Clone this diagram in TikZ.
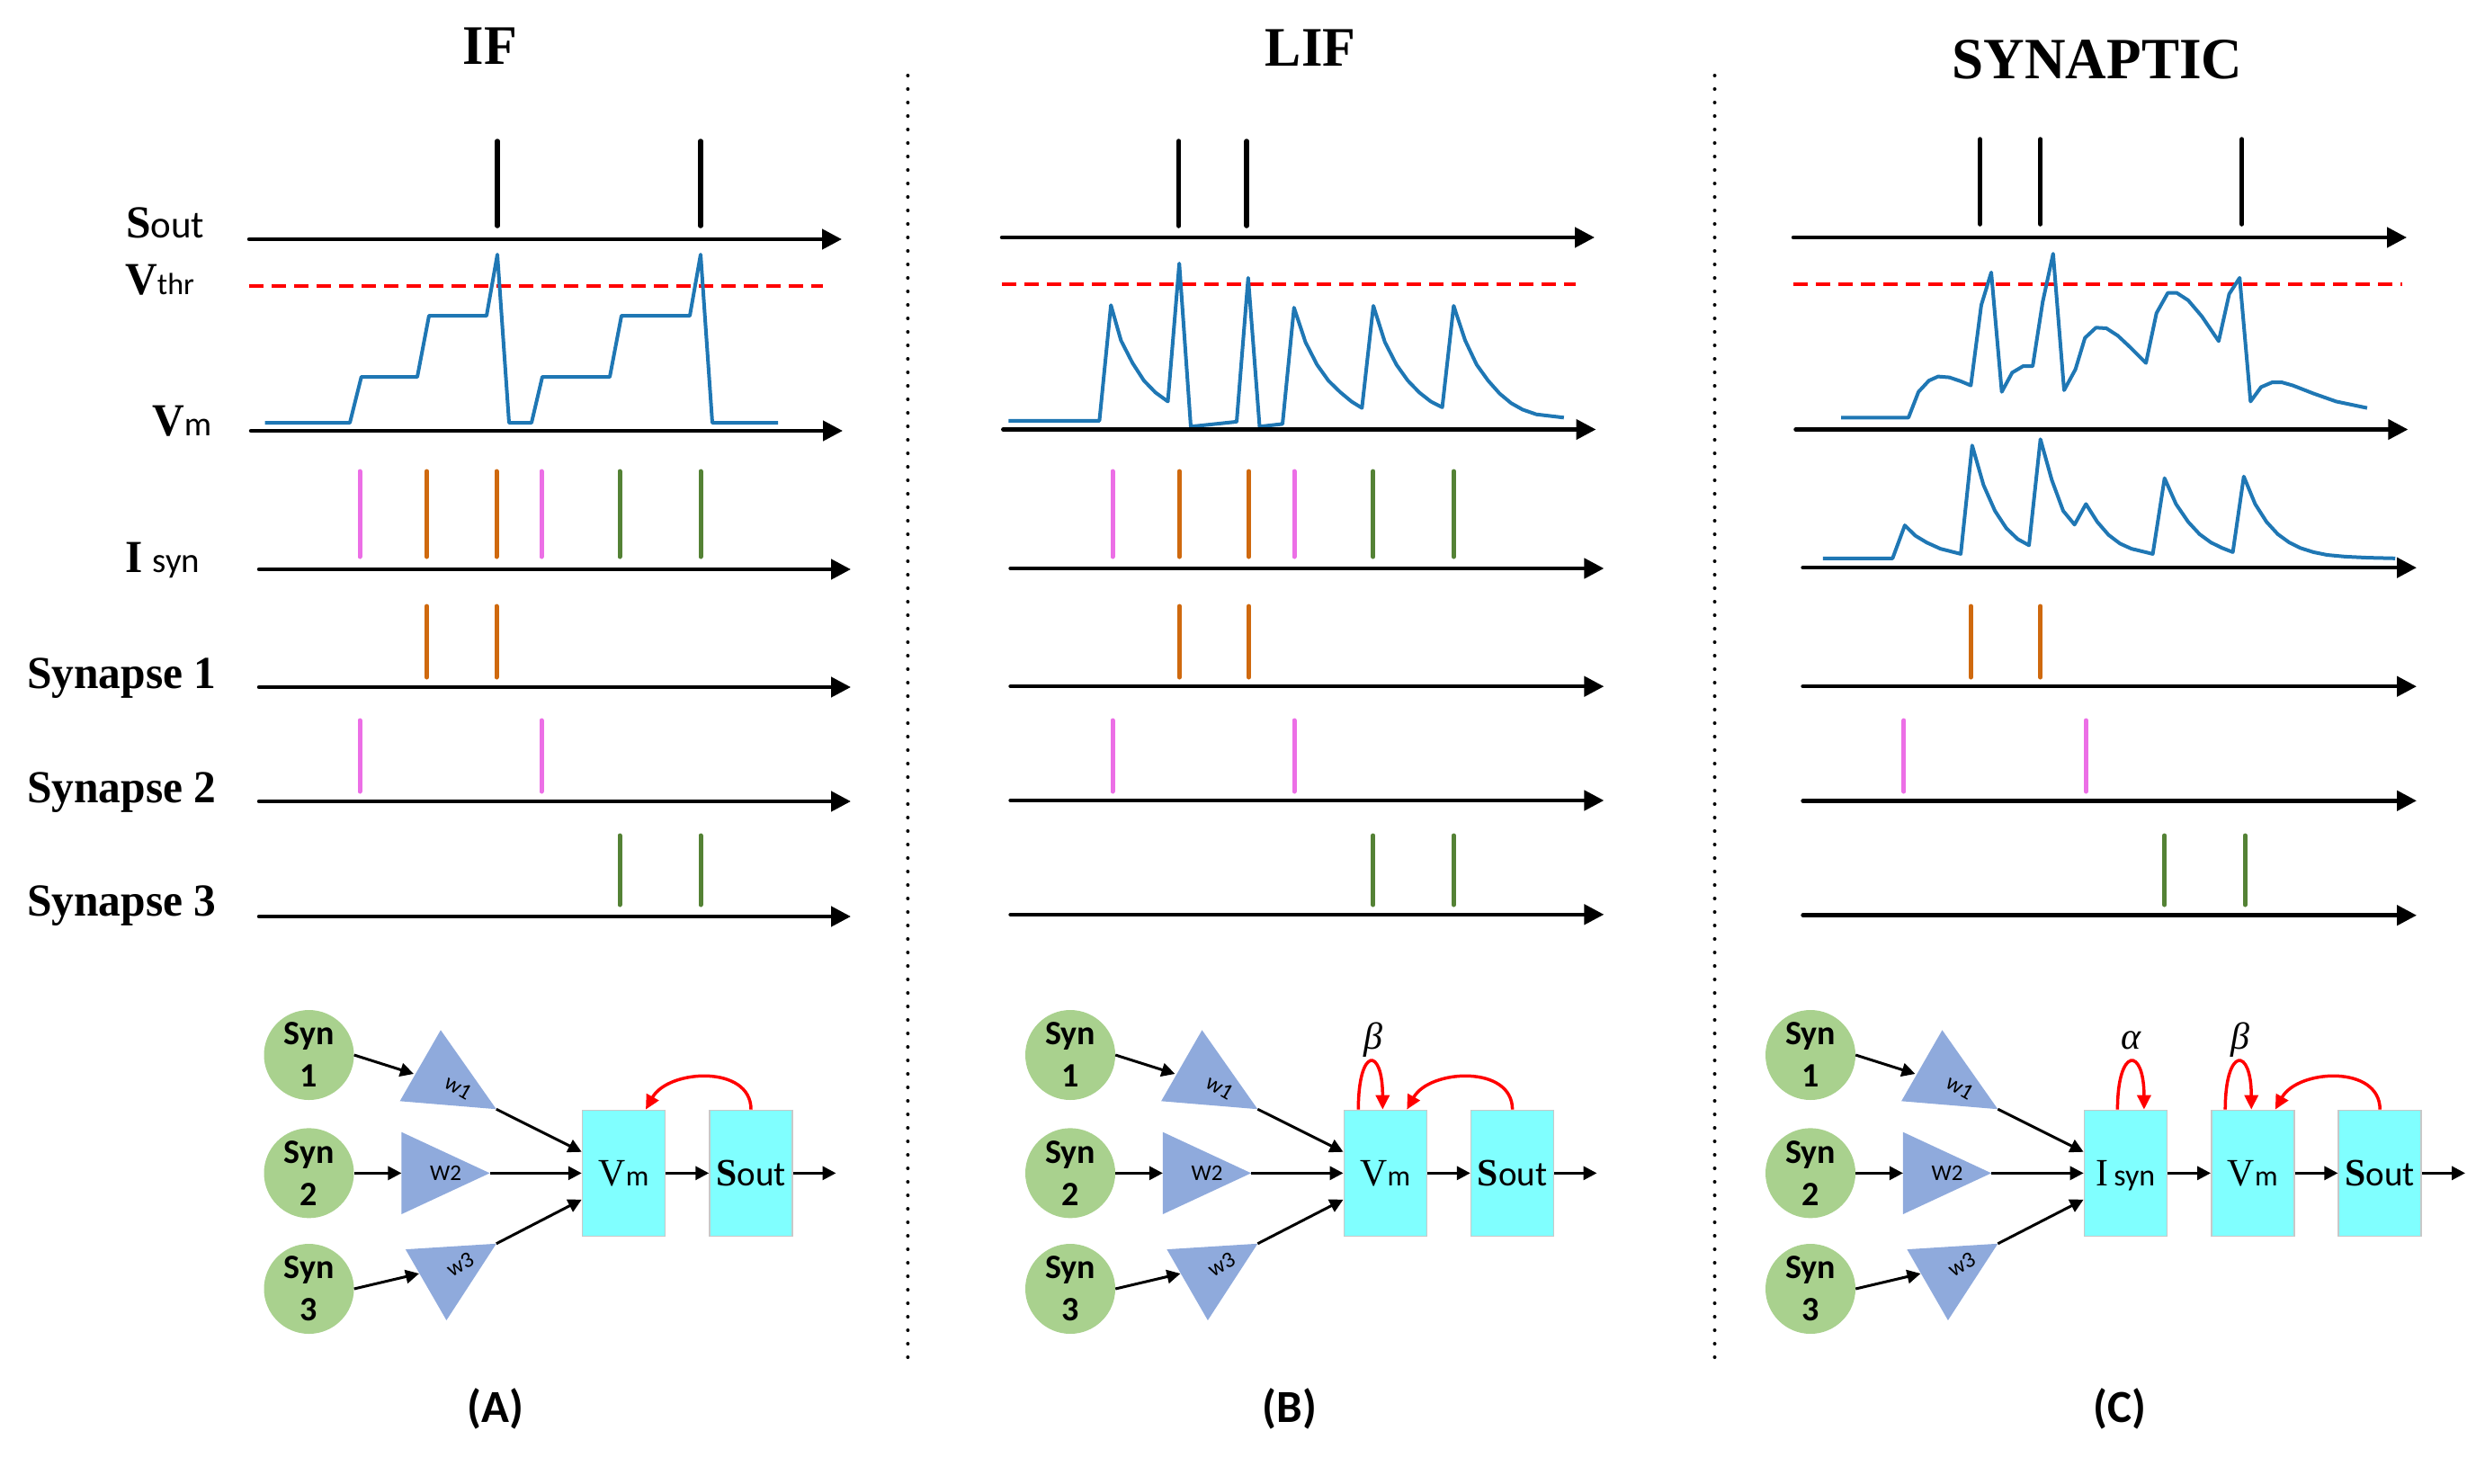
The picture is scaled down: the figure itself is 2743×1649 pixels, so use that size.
\documentclass[tikz,border=0pt]{standalone}
\usepackage{fontspec}
\setmainfont{Liberation Serif}
\newfontfamily\tnr[FakeStretch=0.97]{Liberation Serif}
\newfontfamily\calfont{Carlito}
\usetikzlibrary{arrows.meta}
\definecolor{spblue}{HTML}{1F77B4}
\definecolor{spkpink}{HTML}{EC6FE6}
\definecolor{spkorange}{HTML}{CF690E}
\definecolor{spkgreen}{HTML}{548235}
\definecolor{syngreen}{HTML}{A9D18E}
\definecolor{tricol}{HTML}{8FAADC}
\definecolor{boxcyan}{HTML}{80FFFF}
\definecolor{boxedge}{HTML}{C8C8C8}
\newcommand\sfs[2]{{\calfont\mdseries\fontsize{#1}{#1}\selectfont #2}}
\tikzset{
  axis/.style={line width=4.5pt, line cap=round, -{Triangle[length=22pt,width=22pt]}},
  spk/.style={line width=5pt, line cap=round},
  blk/.style={spk, draw=black, line width=5.5pt},
  pnk/.style={spk, draw=spkpink},
  org/.style={spk, draw=spkorange},
  grn/.style={spk, draw=spkgreen},
  trace/.style={draw=spblue, line width=4pt, line join=round},
  thr/.style={draw=red, line width=4pt, dash pattern=on 16pt off 9pt},
  sep/.style={line width=4pt, line cap=round, dash pattern=on 0pt off 15pt},
  title/.style={font=\tnr\bfseries\fontsize{62}{62}\selectfont, inner sep=0pt},
  lab/.style={font=\tnr\bfseries\fontsize{51}{51}\selectfont, inner sep=0pt},
  syn/.style={circle, fill=syngreen, minimum size=100pt, inner sep=0pt, align=center,
    font=\calfont\bfseries\fontsize{38}{47}\selectfont},
  tri/.style={fill=tricol},
  wlab/.style={font=\calfont\fontsize{25}{25}\selectfont, inner sep=0pt},
  box/.style={rectangle, fill=boxcyan, draw=boxedge, line width=1.5pt, minimum width=92pt,
    minimum height=140pt, inner sep=0pt, text depth=0pt, font=\tnr\fontsize{43}{43}\selectfont},
  arr/.style={line width=3pt, -{Triangle[length=15pt,width=15pt]}},
  fb/.style={draw=red, line width=3.5pt, -{Triangle[length=16pt,width=15pt]}},
  greek/.style={font=\itshape\fontsize{42}{42}\selectfont, inner sep=0pt},
  plab/.style={font=\calfont\bfseries\fontsize{51}{51}\selectfont, inner sep=0pt}
}
\begin{document}
\begin{tikzpicture}[x=1pt,y=-1pt]
\useasboundingbox (0,0) rectangle (2743,1649);

% ---------------- titles
\node[title,anchor=base] (tA) at (545,71) {IF};
\node[title,anchor=base] (tB) at (1457,73) {LIF};
\node[title,anchor=base,font=\tnr\bfseries\fontsize{65}{65}\selectfont] (tC) at (2332,87.5) {SYNAPTIC};

% ---------------- left labels
\node[lab,anchor=base west] (lSout) at (140,264) {S\sfs{43}{out}};
\node[lab,anchor=base west] (lVthr) at (139,327) {V\sfs{34}{thr}};
\node[lab,anchor=base west] (lVm) at (169,484) {V\sfs{38}{m}};
\node[lab,anchor=base west] (lIsyn) at (139,636) {I\hspace{11pt}\sfs{39}{syn}};
\node[lab,anchor=base west] (lS1) at (30,765) {Synapse 1};
\node[lab,anchor=base west] (lS2) at (30,892) {Synapse 2};
\node[lab,anchor=base west] (lS3) at (30,1018) {Synapse 3};

% ---------------- separators
\draw[sep] (1009.4,84) -- (1009.4,1513);
\draw[sep] (1906.5,84) -- (1906.5,1513);

% ================= Panel A plots
\draw[blk] (553,157) -- (553,251);
\draw[blk] (779,157) -- (779,251);
\draw[axis] (277,266) -- (936,266);
\draw[thr] (277,318) -- (915,318);
\draw[trace] (294.6,470) -- (389,470) -- (401.8,419) -- (464,419) -- (477,351) -- (541,351)
  -- (553,283) -- (566,470) -- (591,470) -- (603,419) -- (678,419) -- (691,351) -- (767,351)
  -- (779,283) -- (792,470) -- (865,470);
\draw[axis] (279,479) -- (937,479);
\draw[pnk] (400,524) -- (400,619);
\draw[org] (474.5,524) -- (474.5,619);
\draw[org] (552,524) -- (552,619);
\draw[pnk] (602,524) -- (602,619);
\draw[grn] (689,524) -- (689,619);
\draw[grn] (779,524) -- (779,619);
\draw[axis] (288,633) -- (946,633);
\draw[org] (474.5,674) -- (474.5,753);
\draw[org] (552,674) -- (552,753);
\draw[axis] (288,764) -- (946,764);
\draw[pnk] (400,801) -- (400,880);
\draw[pnk] (602,801) -- (602,880);
\draw[axis] (288,891) -- (946,891);
\draw[grn] (689,929) -- (689,1006);
\draw[grn] (779,929) -- (779,1006);
\draw[axis] (288,1019) -- (946,1019);

% ================= Panel B plots
\draw[blk] (1310.7,157) -- (1310.7,251);
\draw[blk] (1386.2,157) -- (1386.2,251);
\draw[axis] (1114,264) -- (1773,264);
\draw[thr] (1114,316) -- (1751.5,316);
\draw[trace] (1121.4,467.9) -- (1222.4,467.9) -- (1235.2,339.3) -- (1246.4,378.6) -- (1259.2,403.6)
  -- (1271.9,423.2) -- (1284.7,436.4) -- (1298.5,446.4) -- (1311.2,292.9) -- (1324,474.3)
  -- (1375,468.9) -- (1387.8,308.9) -- (1400.5,474.3) -- (1426,471.4) -- (1438.8,342.1)
  -- (1451.5,380.4) -- (1464.3,405.4) -- (1477,423.2) -- (1489.8,435.7) -- (1502.6,446.4)
  -- (1514.3,453.6) -- (1527,340) -- (1539.8,380.4) -- (1552.6,405.4) -- (1565.3,423.2)
  -- (1578.1,436.4) -- (1590.8,446.4) -- (1603.6,452.9) -- (1616.3,340) -- (1629.1,378.6)
  -- (1641.8,405.4) -- (1654.6,423.2) -- (1667.3,437.5) -- (1680.1,448.2) -- (1692.9,455.4)
  -- (1708.2,460.7) -- (1738.8,464.3);
\draw[axis] (1115.3,477.5) -- (1774.5,477.5);
\draw[pnk] (1237,524) -- (1237,619);
\draw[org] (1311.4,524) -- (1311.4,619);
\draw[org] (1388.5,524) -- (1388.5,619);
\draw[pnk] (1439,524) -- (1439,619);
\draw[grn] (1526.7,524) -- (1526.7,619);
\draw[grn] (1616.3,524) -- (1616.3,619);
\draw[axis] (1123.6,632) -- (1783.4,632);
\draw[org] (1311.4,674) -- (1311.4,753);
\draw[org] (1388.5,674) -- (1388.5,753);
\draw[axis] (1123.6,763.2) -- (1783.4,763.2);
\draw[pnk] (1237,801) -- (1237,880);
\draw[pnk] (1439,801) -- (1439,880);
\draw[axis] (1123.6,890) -- (1783.4,890);
\draw[grn] (1526.7,929) -- (1526.7,1006);
\draw[grn] (1616.3,929) -- (1616.3,1006);
\draw[axis] (1123.6,1016.8) -- (1783.4,1016.8);

% ================= Panel C plots
\draw[blk] (2201.4,155) -- (2201.4,249);
\draw[blk] (2268.7,155) -- (2268.7,249);
\draw[blk] (2492.7,155) -- (2492.7,249);
\draw[axis] (1994,264) -- (2676,264);
\draw[thr] (1994,316) -- (2670.8,316);
\draw[trace] (2047.1,464.3) -- (2122,464.3) -- (2133.1,435.7) -- (2144.7,423.2) -- (2154.9,418.6)
  -- (2167.5,419.6) -- (2180.1,423.9) -- (2191.3,428.6) -- (2202.9,339.3) -- (2214,302.9)
  -- (2225.7,435.7) -- (2237.3,414.3) -- (2249.4,407.1) -- (2260.1,407.1) -- (2271.2,335.7)
  -- (2282.8,282.1) -- (2295,433.9) -- (2307.6,410.7) -- (2318.2,375.7) -- (2330.4,364.3)
  -- (2342,365) -- (2354.7,373.2) -- (2367.3,385) -- (2386,403.6) -- (2397.7,348.2)
  -- (2410.3,325.7) -- (2420.4,325.7) -- (2433,333.9) -- (2448.2,351.8) -- (2466.9,379.3)
  -- (2478.6,326.8) -- (2490.2,308.9) -- (2502.3,446.4) -- (2514,430.4) -- (2526.6,425)
  -- (2536.8,425) -- (2549.4,428.6) -- (2572.2,437.5) -- (2597.5,446.4) -- (2631.9,453.6);
\draw[axis] (1996.5,477.5) -- (2677.4,477.5);
\draw[trace] (2026.9,620.8) -- (2104.3,620.8) -- (2117.9,584.1) -- (2129.6,595.6) -- (2142.2,603.2)
  -- (2157.4,610.1) -- (2180.1,615.9) -- (2192.8,495.3) -- (2205.4,539.3) -- (2218.1,568)
  -- (2230.7,587.2) -- (2243.4,599.4) -- (2256,606.3) -- (2268.7,488.4) -- (2281.3,533.6)
  -- (2294,568) -- (2306.6,583.3) -- (2319.3,560.4) -- (2331.9,580.3) -- (2344.5,594.8)
  -- (2357.2,604.4) -- (2369.8,610.1) -- (2393.6,615.9) -- (2406.7,531.7) -- (2419.4,560.4)
  -- (2433,580.3) -- (2445.7,594) -- (2458.3,603.2) -- (2471,609.4) -- (2482.6,613.9)
  -- (2494.8,529.8) -- (2507.4,560.4) -- (2520.1,580.3) -- (2532.7,594) -- (2545.4,603.2)
  -- (2558,609.4) -- (2572.2,613.9) -- (2587.4,617) -- (2607.6,618.9) -- (2632.9,620.1)
  -- (2663.2,620.8);
\draw[axis] (2004.6,631.2) -- (2687,631.2);
\draw[org] (2191.3,674) -- (2191.3,753);
\draw[org] (2268.7,674) -- (2268.7,753);
\draw[axis] (2004.6,763.2) -- (2687,763.2);
\draw[pnk] (2116.9,801) -- (2116.9,880);
\draw[pnk] (2319.2,801) -- (2319.2,880);
\draw[axis] (2004.6,890.3) -- (2687,890.3);
\draw[grn] (2406.7,929) -- (2406.7,1006);
\draw[grn] (2496.3,929) -- (2496.3,1006);
\draw[axis] (2004.6,1017.7) -- (2687,1017.7);

% ================= Diagram boxes
\node[box] (A-b1) at (693.5,1304.35) {V\sfs{32}{m}};
\node[box] (A-b2) at (835,1304.35) {\bfseries S\sfs{39}{out}};
\coordinate (A-out) at (929.5,1304.35);
\node[box] (B-b1) at (1540.3,1304.35) {V\sfs{32}{m}};
\node[box] (B-b2) at (1681.6,1304.35) {\bfseries S\sfs{39}{out}};
\coordinate (B-out) at (1775.5,1304.35);
\node[box] (C-b1) at (2363.4,1304.35) {I\hspace{6pt}\sfs{34}{syn}};
\node[box] (C-b2) at (2504.8,1304.35) {V\sfs{32}{m}};
\node[box] (C-b3) at (2646.2,1304.35) {\bfseries S\sfs{39}{out}};
\coordinate (C-out) at (2741,1304.35);

% ================= Diagram inputs (circles, weights)
\foreach \p/\ox in {A/343.5,B/1190,C/2013}{
  \begin{scope}[shift={(\ox,1173)}]
    \node[syn] (\p-s1) at (0,0) {Syn\\1};
    \node[syn] (\p-s2) at (0,131.35) {Syn\\2};
    \node[syn] (\p-s3) at (0,260) {Syn\\3};
    \fill[tri] (146.5,-27.7) -- (101.1,51.3) -- (208.3,60.2) -- cycle;
    \fill[tri] (102.9,85.7) -- (102.9,177) -- (201.1,131.35) -- cycle;
    \fill[tri] (107.4,216.1) -- (208.3,209.8) -- (152.9,295) -- cycle;
    \node[wlab,rotate=-30] (\p-w1) at (166,36) {w1};
    \node[wlab] (\p-w2) at (152,131.35) {W2};
    \node[wlab,rotate=30] (\p-w3) at (168,233) {w3};
    \coordinate (\p-w1in) at (116.5,21);
    \coordinate (\p-w2in) at (102.9,131.35);
    \coordinate (\p-w3in) at (122.5,243);
    \coordinate (\p-w1out) at (208.3,60.2);
    \coordinate (\p-w2out) at (201.1,131.35);
    \coordinate (\p-w3out) at (208.3,209.8);
  \end{scope}
  \draw[arr] (\p-s1.east) -- (\p-w1in);
  \draw[arr] (\p-s2.east) -- (\p-w2in);
  \draw[arr] (\p-s3.east) -- (\p-w3in);
  \draw[arr] (\p-w1out) -- ([yshift=23.6pt]\p-b1.west);
  \draw[arr] (\p-w2out) -- (\p-b1.west);
  \draw[arr] (\p-w3out) -- ([yshift=-29.4pt]\p-b1.west);
  \draw[arr] (\p-b1.east) -- (\p-b2.west);
}
\draw[arr] (A-b2.east) -- (A-out);
\draw[arr] (B-b2.east) -- (B-out);
\draw[arr] (C-b2.east) -- (C-b3.west);
\draw[arr] (C-b3.east) -- (C-out);

% ================= feedback arcs
\draw[fb] (A-b2.north) .. controls +(0,-50) and +(25,-45) .. ([xshift=24.5pt]A-b1.north);
\draw[fb] (B-b2.north) .. controls +(0,-50) and +(25,-45) .. ([xshift=24pt]B-b1.north);
\draw[fb] (C-b3.north) .. controls +(0,-50) and +(25,-45) .. ([xshift=25pt]C-b2.north);
% self loops
\draw[fb] ([xshift=-30pt]B-b1.north) .. controls +(0,-70) and +(0,-70) .. ([xshift=-3pt]B-b1.north);
\draw[fb] ([xshift=-30.6pt]C-b2.north) .. controls +(0,-70) and +(0,-70) .. ([xshift=-1.6pt]C-b2.north);
\draw[fb] ([xshift=-9pt]C-b1.north) .. controls +(0,-70) and +(0,-70) .. ([xshift=20.5pt]C-b1.north);

% greek labels
\node[greek,anchor=base] (betaB) at (1527,1166) {β};
\node[greek,anchor=base] (alphaC) at (2369.4,1166) {α};
\node[greek,anchor=base] (betaC) at (2491.4,1166) {β};

% panel labels
\node[plab,anchor=base] (pA) at (551,1581) {(A)};
\node[plab,anchor=base] (pB) at (1434,1581) {(B)};
\node[plab,anchor=base] (pC) at (2357,1581) {(C)};
\end{tikzpicture}
\end{document}
